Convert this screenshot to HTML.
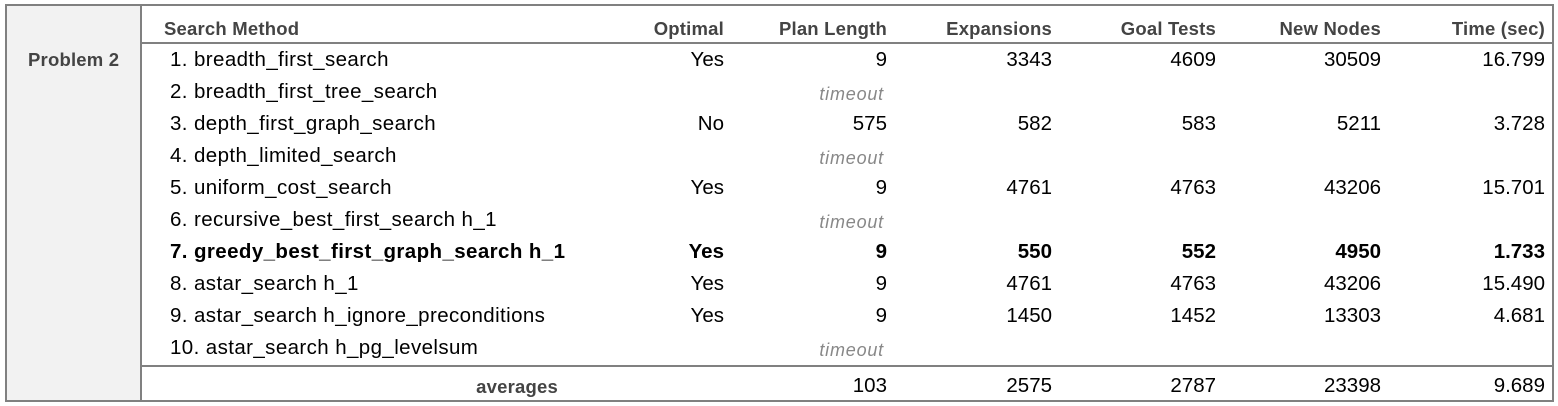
<!DOCTYPE html>
<html><head><meta charset="utf-8"><style>
body{margin:0;width:1558px;height:406px;background:#fff;position:relative;overflow:hidden;font-family:"Liberation Sans",sans-serif;}
.box{position:absolute;left:5px;top:4px;width:1545px;height:394px;border:2px solid #808080;}
.left{position:absolute;left:7px;top:6px;width:134px;height:394px;background:#f2f2f2;}
.vl{position:absolute;left:140px;top:6px;width:2px;height:394px;background:#808080;}
.hl{position:absolute;left:142px;width:1410px;height:2px;background:#808080;}
.t{position:absolute;font-size:20.5px;color:#000;white-space:nowrap;line-height:20px;}
.m{letter-spacing:0.4px;}
.h{font-weight:bold;color:#444;font-size:18.5px;letter-spacing:0.2px;}
.r{text-align:right;}
.b{font-weight:bold;}
.to{font-style:italic;color:#888;font-size:18px;letter-spacing:0.8px;}
</style></head><body>
<div class="left"></div>
<div class="box"></div>
<div class="vl"></div>
<div class="hl" style="top:42px"></div>
<div class="hl" style="top:365px"></div>
<div class="t h" style="left:28px;top:50px">Problem 2</div>

<div class="t h" style="left:164px;top:19px">Search Method</div>
<div class="t h r" style="right:834px;top:19px">Optimal</div>
<div class="t h r" style="right:671px;top:19px">Plan Length</div>
<div class="t h r" style="right:506px;top:19px">Expansions</div>
<div class="t h r" style="right:342px;top:19px">Goal Tests</div>
<div class="t h r" style="right:177px;top:19px">New Nodes</div>
<div class="t h r" style="right:13px;top:19px">Time (sec)</div>

<div id="rows"></div>
<script>
var rows=[
["1. breadth_first_search","Yes","9","3343","4609","30509","16.799"],
["2. breadth_first_tree_search",null],
["3. depth_first_graph_search","No","575","582","583","5211","3.728"],
["4. depth_limited_search",null],
["5. uniform_cost_search","Yes","9","4761","4763","43206","15.701"],
["6. recursive_best_first_search h_1",null],
["7. greedy_best_first_graph_search h_1","Yes","9","550","552","4950","1.733",1],
["8. astar_search h_1","Yes","9","4761","4763","43206","15.490"],
["9. astar_search h_ignore_preconditions","Yes","9","1450","1452","13303","4.681"],
["10. astar_search h_pg_levelsum",null]];
var rights=[834,671,506,342,177,13];
var h="";
rows.forEach(function(r,i){
 var top=50+i*32;var b=r[7]?" b":"";
 h+='<div class="t m'+b+'" style="left:170px;top:'+top+'px">'+r[0]+'</div>';
 if(r[1]===null){h+='<div class="t to r" style="right:674px;top:'+(top+2)+'px">timeout</div>';}
 else for(var j=1;j<7;j++)h+='<div class="t r'+b+'" style="right:'+rights[j-1]+'px;top:'+top+'px">'+r[j]+'</div>';
});
var av=["103","2575","2787","23398","9.689"];
h+='<div class="t h r" style="right:1000px;top:377px">averages</div>';
for(var j=0;j<5;j++)h+='<div class="t r" style="right:'+rights[j+1]+'px;top:376px">'+av[j]+'</div>';
document.getElementById("rows").innerHTML=h;
</script>
</body></html>
